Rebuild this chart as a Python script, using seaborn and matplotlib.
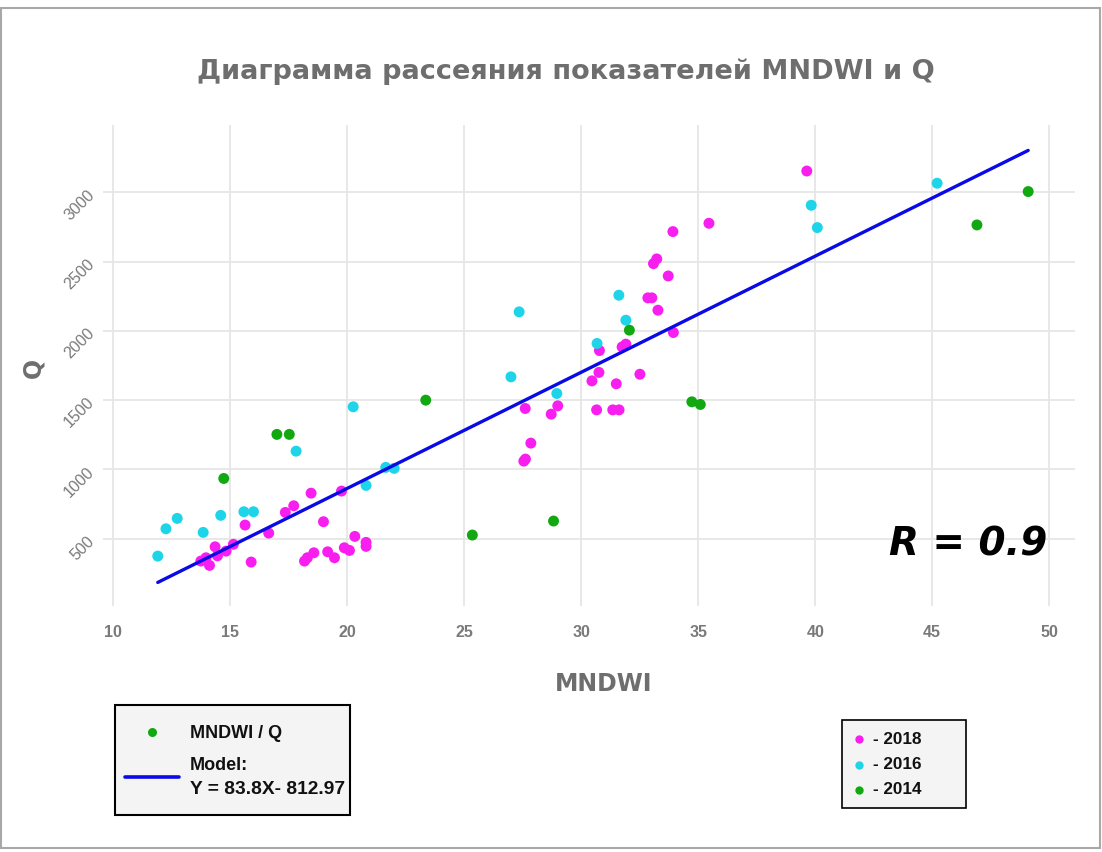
import numpy as np
import pandas as pd
import matplotlib
matplotlib.use("Agg")
import matplotlib.pyplot as plt
import seaborn as sns
from matplotlib.patches import Rectangle
from matplotlib.lines import Line2D

# ---- data ----
x_2018 = [13.75, 13.97, 14.12, 14.36, 14.46, 14.83, 15.14, 15.64, 15.90, 16.65, 17.36, 17.72,
          18.46, 18.99, 19.76, 18.18, 18.30, 18.58, 19.17, 19.46, 19.88, 20.10, 20.33, 20.81, 20.81,
          27.61, 29.00, 28.72, 27.85, 27.55, 27.62, 30.78, 30.76, 30.46, 31.50, 32.51, 30.66, 31.35,
          31.62, 31.75, 31.91, 32.85, 33.02, 33.28, 33.94, 33.72, 39.64, 35.46, 33.92, 33.23, 33.09]
q_2018 = [339, 363, 308, 442, 377, 411, 460, 599, 332, 541, 690, 738,
          829, 623, 844, 339, 363, 399, 406, 363, 435, 416, 517, 474, 445,
          1440, 1459, 1399, 1190, 1060, 1075, 1858, 1700, 1639, 1618, 1687, 1430, 1430,
          1430, 1884, 1904, 2238, 2238, 2149, 1988, 2396, 3153, 2776, 2716, 2519, 2485]

x_2016 = [11.91, 12.26, 12.74, 13.85, 14.60, 15.59, 16.00, 17.82, 20.26, 21.65, 22.01, 20.81,
          27.35, 27.00, 28.96, 30.68, 31.61, 31.91, 39.83, 40.09, 45.21]
q_2016 = [375, 572, 647, 546, 669, 695, 695, 1132, 1452, 1015, 1008, 885,
          2137, 1668, 1548, 1909, 2257, 2077, 2906, 2745, 3065]

x_2014 = [14.73, 17.00, 17.53, 23.36, 25.35, 28.82, 32.06, 34.73, 35.09, 46.91, 49.10]
q_2014 = [935, 1253, 1253, 1500, 527, 628, 2005, 1488, 1469, 2764, 3005]

years = ["2018", "2016", "2014"]
model_slope = 83.8
model_intercept = -812.97
r_value = 0.9
x_ticks = [10, 15, 20, 25, 30, 35, 40, 45, 50]
y_ticks = [500, 1000, 1500, 2000, 2500, 3000]

colors = {"2018": "#f81ef0", "2016": "#1ed4e8", "2014": "#12a812"}
line_color = "#0a0ae6"
grey = "#6e6e6e"

df = pd.concat([
    pd.DataFrame({"MNDWI": x_2018, "Q": q_2018, "year": "2018"}),
    pd.DataFrame({"MNDWI": x_2016, "Q": q_2016, "year": "2016"}),
    pd.DataFrame({"MNDWI": x_2014, "Q": q_2014, "year": "2014"}),
], ignore_index=True)

sns.set_style("white")
plt.rcParams['font.family'] = ['Liberation Sans', 'DejaVu Sans']

fig = plt.figure(figsize=(11.02, 8.52), dpi=100)
W, H = 1102, 852
ax = fig.add_axes([103 / W, 1 - 606 / H, (1075 - 103) / W, (606 - 125) / H])

sns.scatterplot(data=df, x="MNDWI", y="Q", hue="year", palette=colors,
                hue_order=years, s=62, edgecolor="none", linewidth=0,
                legend=False, ax=ax, zorder=3)

xs = np.array([min(df["MNDWI"]), max(df["MNDWI"])])
ax.plot(xs, model_slope * xs + model_intercept, color=line_color, lw=2.4, zorder=4)

ax.set_xlim(9.57, 51.1)
ax.set_ylim(15, 3485)
ax.set_xticks(x_ticks)
ax.set_yticks(y_ticks)
ax.grid(True, color="#e6e6e6", lw=1.3, zorder=0)
for s in ax.spines.values():
    s.set_visible(False)
ax.tick_params(length=0, pad=14, colors=grey)
for lab in ax.get_xticklabels():
    lab.set_fontsize(11.5)
    lab.set_fontweight("bold")
    lab.set_color("#7a7a7a")
for lab in ax.get_yticklabels():
    lab.set_fontsize(11.5)
    lab.set_color("#7a7a7a")
    lab.set_rotation(45)
    lab.set_ha("right")
    lab.set_va("center")
    lab.set_rotation_mode("anchor")
ax.tick_params(axis="y", pad=8)
ax.set_xlabel("")
ax.set_ylabel("")

# titles / labels
fig.text(566 / W, 1 - 72 / H, "Диаграмма рассеяния показателей MNDWI и Q", ha="center", va="center",
         fontsize=19.5, fontweight="bold", color=grey, family=["DejaVu Sans"])
fig.text(604 / W, 1 - 684 / H, "MNDWI", ha="center", va="center",
         fontsize=17, fontweight="bold", color=grey, family=["DejaVu Sans"])
fig.text(33 / W, 1 - 368 / H, "Q", ha="center", va="center", rotation=90,
         fontsize=17, fontweight="bold", color=grey, family=["DejaVu Sans"])
fig.text(968 / W, 1 - 545 / H, f"R = {r_value}", ha="center", va="center",
         fontsize=28, fontweight="bold", fontstyle="italic", color="black",
         family=["DejaVu Sans"])

# screenshot frame
fig.add_artist(Rectangle((1 / W, 1 - 848 / H), 1099 / W, 840 / H, transform=fig.transFigure,
                         fill=False, edgecolor="#a8a8a8", lw=1.5))

# legend 1
fig.add_artist(Rectangle((115 / W, 1 - 815 / H), 235 / W, 110 / H, transform=fig.transFigure,
                         facecolor="#f4f4f4", edgecolor="black", lw=1.5))
fig.add_artist(Line2D([152 / W], [1 - 732 / H], marker="o", markersize=6.5, color=colors["2014"],
                      markeredgewidth=0, transform=fig.transFigure))
fig.add_artist(Line2D([125 / W, 179 / W], [1 - 777 / H, 1 - 777 / H], color=line_color, lw=2.6,
                      transform=fig.transFigure))
fig.text(190 / W, 1 - 733 / H, "MNDWI / Q", ha="left", va="center", fontsize=13,
         fontweight="bold", color="#111111")
fig.text(190 / W, 1 - 766 / H, "Model:", ha="left", va="center", fontsize=13,
         fontweight="bold", color="#111111")
fig.text(190 / W, 1 - 789 / H, f"Y = {model_slope}X- {abs(model_intercept)}", ha="left", va="center",
         fontsize=13.8, fontweight="bold", color="#111111")

# legend 2
fig.add_artist(Rectangle((842 / W, 1 - 808 / H), 124 / W, 88 / H, transform=fig.transFigure,
                         facecolor="#f4f4f4", edgecolor="black", lw=1.2))
for i, yr in enumerate(years):
    yy = 739 + i * 25.5
    fig.add_artist(Line2D([859 / W], [1 - yy / H], marker="o", markersize=6, color=colors[yr],
                          markeredgewidth=0, transform=fig.transFigure))
    fig.text(873 / W, 1 - yy / H, f"- {yr}", ha="left", va="center", fontsize=12.3,
             fontweight="bold", color="#111111")

fig.savefig("out.png", dpi=100)
